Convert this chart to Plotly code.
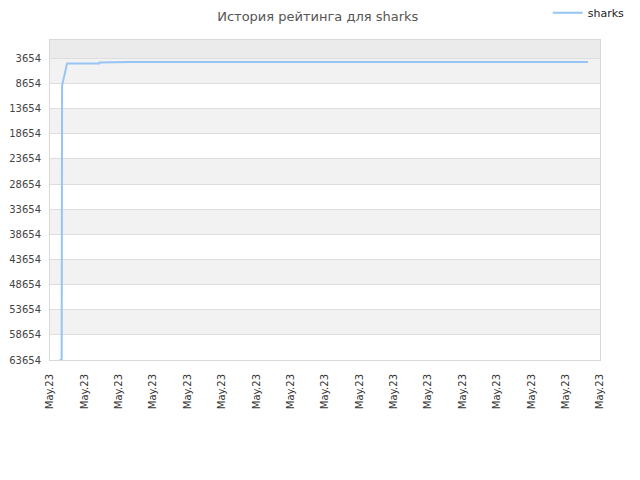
import pandas as pd
import plotly.graph_objects as go

# Rating history for "sharks" (lower number = better place)
times = [
    "2023-05-23 00:23", "2023-05-23 00:28", "2023-05-23 00:29",
    "2023-05-23 00:41", "2023-05-23 01:58", "2023-05-23 01:59",
    "2023-05-23 03:12", "2023-05-23 21:31",
]
rating = [63654, 63654, 9054, 4654, 4654, 4454, 4400, 4400]

y_ticks = [3654, 8654, 13654, 18654, 23654, 28654, 33654, 38654, 43654,
           48654, 53654, 58654, 63654]
x_start = "2023-05-23 00:00"
x_end = "2023-05-23 22:00"
x_tick_label = "May.23"

x_ticks = pd.date_range(x_start, x_end, periods=17)

fig = go.Figure()
fig.add_trace(go.Scatter(
    x=pd.to_datetime(times), y=rating, mode="lines", name="sharks",
    line=dict(color="#97c4f5", width=2),
))

# alternating background bands between gridlines
shapes = [dict(type="rect", xref="paper", yref="y", x0=0, x1=1,
               y0=0, y1=y_ticks[0], fillcolor="#ebebeb", line_width=0, layer="below")]
for i in range(len(y_ticks) - 1):
    if i % 2 == 0:
        shapes.append(dict(type="rect", xref="paper", yref="y", x0=0, x1=1,
                           y0=y_ticks[i], y1=y_ticks[i + 1], fillcolor="#f2f2f2",
                           line_width=0, layer="below"))

# page body has an 8px margin, so the figure is nudged up/left to compensate
fig.update_layout(
    width=640, height=480,
    margin=dict(l=42, r=48, t=32, b=128, autoexpand=False),
    paper_bgcolor="white", plot_bgcolor="white",
    font=dict(family="DejaVu Sans", size=10, color="#444"),
    title=dict(text="История рейтинга для sharks", x=0.484, xanchor="center",
               y=0.983, yanchor="middle", font=dict(size=13, color="#555")),
    showlegend=True,
    legend=dict(x=0.905, xanchor="left", y=1.085, yanchor="middle",
                font=dict(size=11, color="#222"), bgcolor="rgba(0,0,0,0)"),
    shapes=shapes,
)
fig.update_xaxes(
    range=[x_start, x_end], tickvals=x_ticks, ticktext=[x_tick_label] * len(x_ticks),
    tickangle=-90, showgrid=False, showline=True, linecolor="#d9d9d9", mirror=True,
    ticks="outside", ticklen=9, tickcolor="rgba(0,0,0,0)", tickfont=dict(color="#333"),
    zeroline=False, automargin=False,
)
fig.update_yaxes(
    range=[63654, 0], tickvals=y_ticks, ticktext=[str(v) for v in y_ticks],
    showgrid=True, gridcolor="#dedede",
    showline=True, linecolor="#d9d9d9", mirror=True, zeroline=False,
    ticks="outside", ticklen=6, tickcolor="rgba(0,0,0,0)", automargin=False,
    ticklabeloverflow="allow",
)

fig.write_html("out.html")
